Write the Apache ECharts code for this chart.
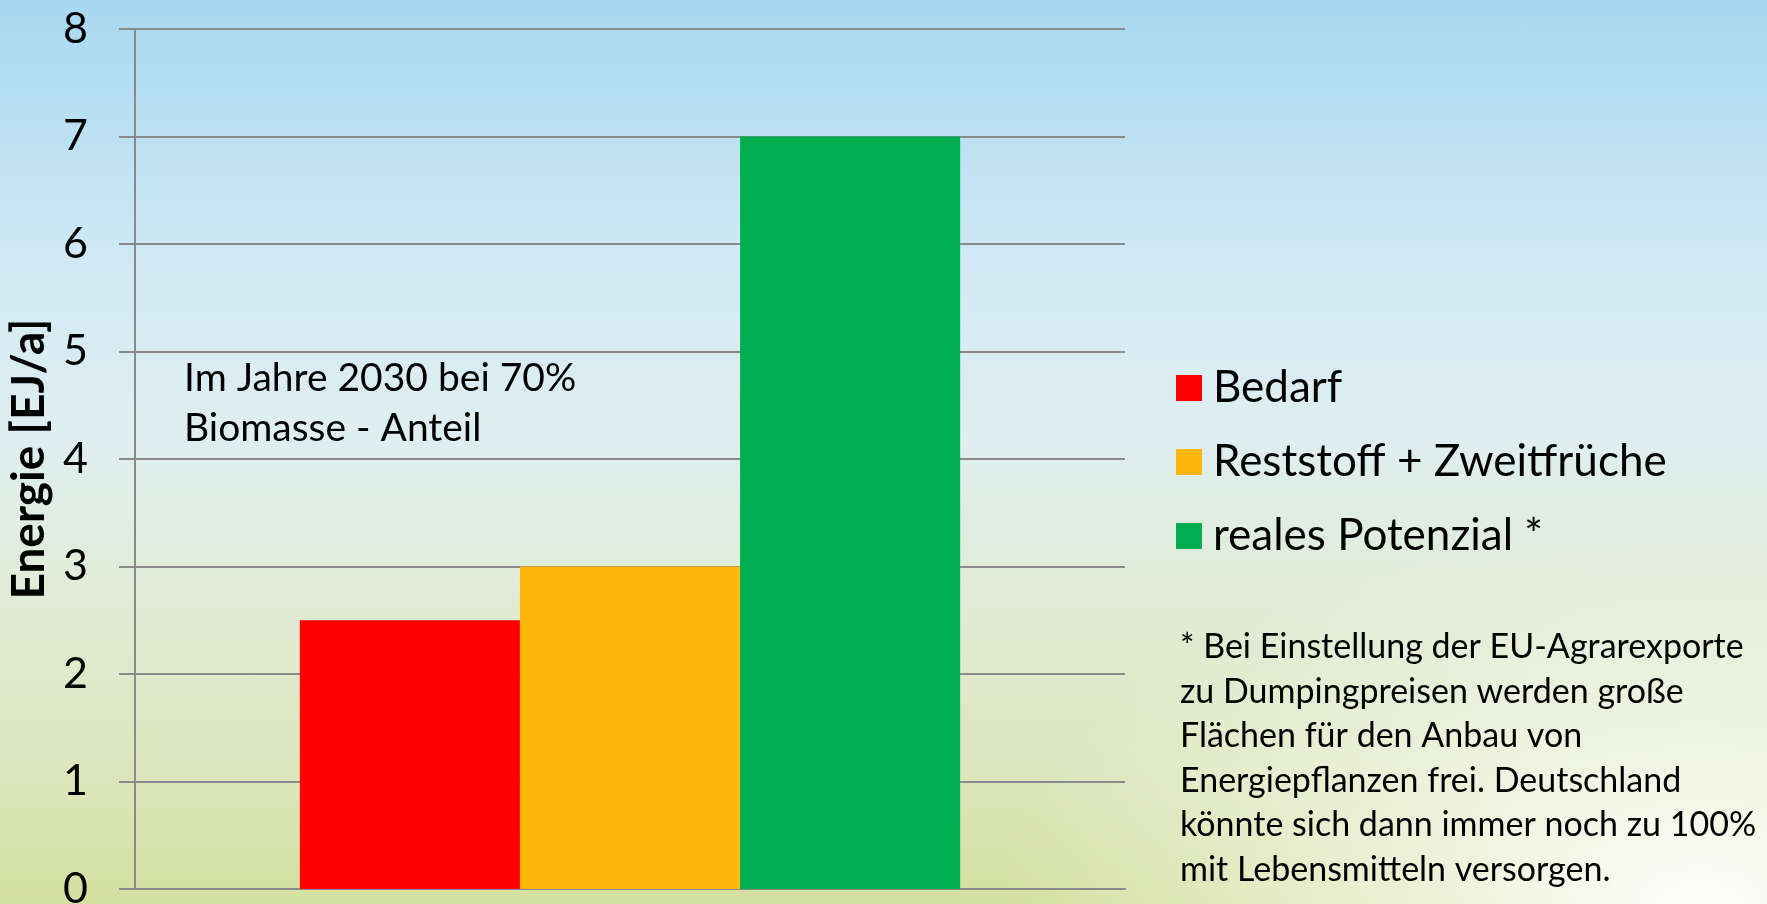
<!DOCTYPE html>
<html>
<head>
<meta charset="utf-8">
<script src="https://cdn.jsdelivr.net/npm/echarts@6/dist/echarts.min.js"></script>
<style>
  html, body { margin: 0; padding: 0; }
  #chart {
    width: 1767px;
    height: 904px;
    background:
      radial-gradient(ellipse 700px 380px at 1700px 904px, rgba(255,255,255,0.95), rgba(255,255,255,0) 100%),
      linear-gradient(to bottom, #a7d8f1 0%, #d2eaf5 30%, #dfeef0 48%, #e1ecd8 65%, #dde6bd 85%, #d4e0a0 100%);
  }
</style>
</head>
<body>
<div id="chart"></div>
<script>
// Daten
const categories = ['2030'];
const seriesNames = ['Bedarf', 'Reststoff + Zweitfrüche', 'reales Potenzial *'];
const seriesValues = [2.5, 3, 7];
const seriesColors = ['#ff0000', '#ffb60d', '#00ae4f'];
const yTicks = { min: 0, max: 8, interval: 1 };

const font = 'Lato, "Open Sans", sans-serif';

const footnote = [
  '* Bei Einstellung der EU-Agrarexporte',
  'zu Dumpingpreisen werden große',
  'Flächen für den Anbau von',
  'Energiepflanzen frei. Deutschland',
  'könnte sich dann immer noch zu 100%',
  'mit Lebensmitteln versorgen.'
].join('\n');

const chart = echarts.init(document.getElementById('chart'));

const option = {
  backgroundColor: 'transparent',
  textStyle: { fontFamily: font, color: '#000' },
  grid: { left: 135, right: 642, top: 29, bottom: 15, containLabel: false, outerBoundsMode: 'none' },
  legend: {
    orient: 'vertical',
    left: 1171,
    top: 361,
    itemWidth: 26,
    itemHeight: 26,
    itemGap: 30,
    icon: 'rect',
    textStyle: { fontSize: 44, fontFamily: font, color: '#000', padding: [0, 0, 0, 6] },
    data: seriesNames
  },
  xAxis: {
    type: 'category',
    data: categories,
    axisLine: { show: true, lineStyle: { color: '#8a8a8a', width: 2 } },
    axisTick: { show: false },
    axisLabel: { show: false }
  },
  yAxis: {
    type: 'value',
    min: yTicks.min,
    max: yTicks.max,
    interval: yTicks.interval,
    name: 'Energie [EJ/a]',
    nameLocation: 'middle',
    nameRotate: 90,
    nameGap: 78,
    nameTextStyle: { fontSize: 46, fontWeight: 'bold', fontFamily: font, color: '#000' },
    axisLine: { show: true, lineStyle: { color: '#8a8a8a', width: 2 } },
    axisTick: { show: true, inside: false, length: 16, lineStyle: { color: '#8a8a8a', width: 2 } },
    axisLabel: { fontSize: 43, margin: 47, color: '#000', fontFamily: font },
    splitLine: { show: true, lineStyle: { color: '#8a8a8a', width: 2 } }
  },
  series: seriesNames.map((name, i) => ({
    name: name,
    type: 'bar',
    data: [seriesValues[i]],
    itemStyle: { color: seriesColors[i] },
    barGap: '0%',
    barCategoryGap: '33.3%'
  })),
  graphic: [
    {
      type: 'text',
      left: 184,
      top: 353,
      style: {
        text: 'Im Jahre 2030 bei 70%\nBiomasse - Anteil',
        font: '39px ' + font,
        lineHeight: 50,
        fill: '#000'
      }
    },
    {
      type: 'text',
      left: 1180,
      top: 625,
      style: {
        text: footnote,
        font: '34px ' + font,
        lineHeight: 44.5,
        fill: '#000'
      }
    }
  ]
};

chart.setOption(option);
</script>
</body>
</html>
